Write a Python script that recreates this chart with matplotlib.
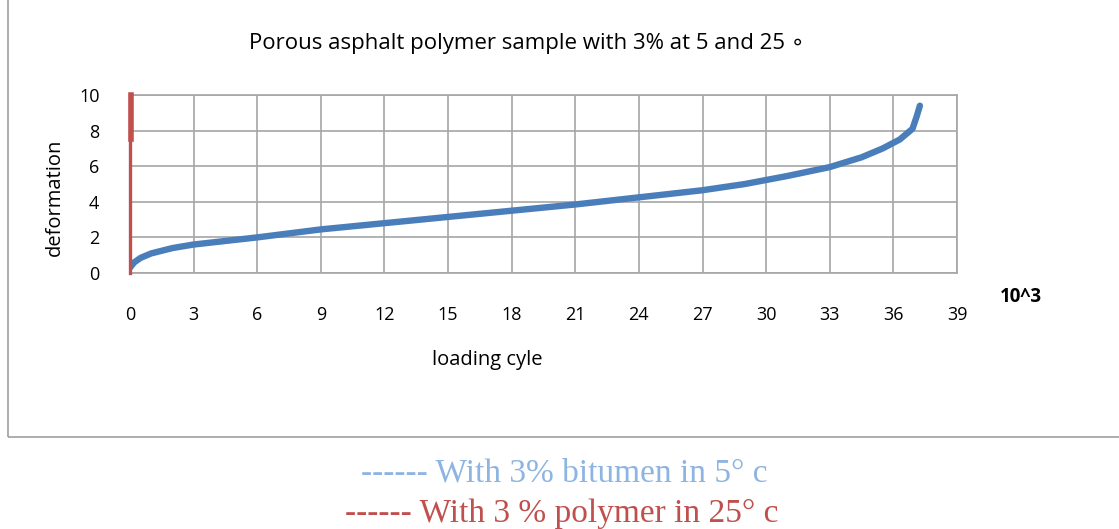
import matplotlib.pyplot as plt
from matplotlib.patches import Rectangle

# blue series: loading cycles (x10^3) vs deformation
cycles_5c = [0.0, 0.2, 0.5, 1.0, 2.0, 3.0, 4.5, 6.0, 9.0, 12.0, 15.0, 18.0,
             21.0, 24.0, 27.0, 29.0, 31.0, 33.0, 34.5, 35.5, 36.3, 36.9, 37.1, 37.25]
deform_5c = [0.3, 0.6, 0.85, 1.1, 1.4, 1.6, 1.8, 2.0, 2.45, 2.8, 3.15, 3.5,
             3.85, 4.25, 4.65, 5.0, 5.45, 5.95, 6.5, 7.0, 7.5, 8.1, 8.8, 9.4]

# red series: almost vertical at zero cycles
cycles_25c = [0.0, 0.0]
deform_25c = [0.0, 10.0]
cycles_25c_top = [0.05, 0.05]
deform_25c_top = [7.5, 10.0]

x_ticks = list(range(0, 40, 3))
y_ticks = [0, 2, 4, 6, 8, 10]

blue = "#4A7EBB"
red = "#C0504D"
grid_c = "#A6A6A6"

fig = plt.figure(figsize=(11.19, 5.29), dpi=100)
fig.patches.append(Rectangle((8 / 1119, 92 / 529), 1.2, 1.2, transform=fig.transFigure,
                             fill=False, edgecolor="#A0A0A0", linewidth=1.2))

ax = fig.add_axes([130 / 1119, 1 - 273 / 529, 827 / 1119, 178 / 529])
ax.plot(cycles_5c, deform_5c, color=blue, linewidth=4.6, solid_capstyle="round", zorder=3)
ax.plot(cycles_25c, deform_25c, color=red, linewidth=2.4, zorder=3, clip_on=False)
ax.plot(cycles_25c_top, deform_25c_top, color=red, linewidth=4, zorder=3, clip_on=False)

ax.set_xlim(0, 39)
ax.set_ylim(0, 10)
ax.set_xticks(x_ticks)
ax.set_yticks(y_ticks)
ax.grid(True, color=grid_c, linewidth=1.2)
ax.set_axisbelow(True)
for s in ax.spines.values():
    s.set_color(grid_c)
    s.set_linewidth(1.2)
    s.set_zorder(1)
ax.tick_params(length=0, labelsize=13)
ax.tick_params(axis="x", pad=24)
ax.tick_params(axis="y", pad=22)
for lab in ax.get_xticklabels() + ax.get_yticklabels():
    lab.set_fontfamily("Open Sans")

fig.text(527 / 1119, 1 - 43 / 529, "Porous asphalt polymer sample with 3% at 5 and 25 \u2218",
         ha="center", va="center", fontsize=16, family=["Open Sans", "DejaVu Sans"])
fig.text(55 / 1119, 1 - 197 / 529, "deformation", rotation=90, ha="center", va="center",
         fontsize=14.5, family="Open Sans")
fig.text(487 / 1119, 1 - 360 / 529, "loading cyle", ha="center", va="center",
         fontsize=14.5, family="Open Sans")
fig.text(1021 / 1119, 1 - 297 / 529, "10^3", ha="center", va="center",
         fontsize=13.5, fontweight="bold", family="Open Sans")

fig.text(564 / 1119, 1 - 473 / 529, "------ With 3% bitumen in 5\u00b0 c", ha="center", va="center",
         fontsize=24, color="#8DB4E2", family="Liberation Serif")
fig.text(562 / 1119, 1 - 514 / 529, "------ With 3 % polymer in 25\u00b0 c", ha="center", va="center",
         fontsize=24, color=red, family="Liberation Serif")

fig.savefig("out.png", dpi=100)
